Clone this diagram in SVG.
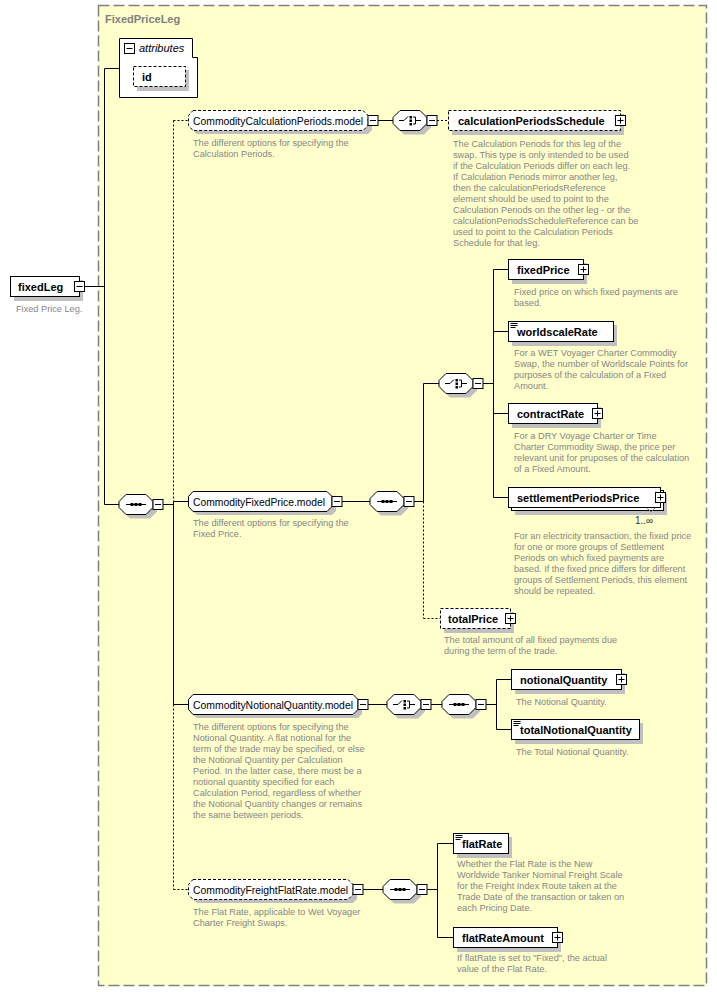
<svg xmlns="http://www.w3.org/2000/svg" xmlns:xlink="http://www.w3.org/1999/xlink" width="717" height="992" viewBox="0 0 717 992">
<style>
.box{fill:#fff;stroke:#000;stroke-width:1}
.dbox{fill:#fff;stroke:#000;stroke-width:1;stroke-dasharray:3,2}
.sh{fill:#c0c0c0}
.lbl{font-family:"Liberation Sans",Arial,sans-serif;font-size:11px;font-weight:bold;fill:#000}
.mdl{font-family:"Liberation Sans",Arial,sans-serif;font-size:11px;fill:#000}
.desc{font-family:"Liberation Sans",Arial,sans-serif;font-size:9.2px;fill:#868686}
.ln{stroke:#000;stroke-width:1;fill:none}
.dl{stroke:#000;stroke-width:1;fill:none;stroke-dasharray:2,2}
</style>
<defs>
<g id="minus"><rect x="0" y="0" width="10" height="10" class="box"/><line x1="2" y1="5" x2="8" y2="5" class="ln"/></g>
<g id="plus"><rect x="0" y="0" width="10" height="10" class="box"/><line x1="2" y1="5" x2="8" y2="5" class="ln"/><line x1="5" y1="2" x2="5" y2="8" class="ln"/></g>
<g id="simple"><line x1="2" y1="2" x2="9" y2="2" class="ln"/><line x1="2" y1="4" x2="9" y2="4" class="ln"/><line x1="2" y1="6" x2="7" y2="6" class="ln"/></g>
<g id="seqNode">
<polygon points="11,4 31,4 38,11 38,17 31,24 11,24 4,17 4,11" class="sh"/>
<polygon points="7,0 27,0 34,7 34,13 27,20 7,20 0,13 0,7" class="box"/>
<line x1="7" y1="10" x2="27" y2="10" class="ln"/>
<rect x="11.5" y="8.5" width="3" height="3" fill="#000"/>
<rect x="15.5" y="8.5" width="3" height="3" fill="#000"/>
<rect x="19.5" y="8.5" width="3" height="3" fill="#000"/>
<use xlink:href="#minus" x="34" y="5"/>
</g>
<g id="choiceNode">
<polygon points="11,4 31,4 38,11 38,17 31,24 11,24 4,17 4,11" class="sh"/>
<polygon points="7,0 27,0 34,7 34,13 27,20 7,20 0,13 0,7" class="box"/>
<polyline points="6,10 11,10 15,6" class="ln"/>
<rect x="16.5" y="5.5" width="2.5" height="2.5" fill="#000"/>
<rect x="16.5" y="9" width="2.5" height="2.5" fill="#000"/>
<rect x="16.5" y="12.5" width="2.5" height="2.5" fill="#000"/>
<polyline points="20,6.5 22.5,6.5 22.5,13.5 20,13.5" class="ln"/>
<line x1="22.5" y1="10" x2="28" y2="10" class="ln"/>
<use xlink:href="#minus" x="34" y="5"/>
</g>
</defs>

<rect x="0" y="0" width="717" height="992" fill="#fff"/>
<g id="FixedPriceLeg">
<rect x="98.5" y="5.5" width="608" height="980" fill="#ffffcc" stroke="#808080" stroke-width="1.5" stroke-dasharray="11,4"/>
<text x="105" y="23" class="lbl" style="fill:#808080">FixedPriceLeg</text>
</g>

<g id="connectors">
<line x1="84" y1="286.5" x2="104.5" y2="286.5" class="ln"/>
<line x1="104.5" y1="68.5" x2="104.5" y2="504.5" class="ln"/>
<line x1="104.5" y1="68.5" x2="119" y2="68.5" class="ln"/>
<line x1="104.5" y1="504.5" x2="119" y2="504.5" class="ln"/>
<line x1="163" y1="504.5" x2="173.5" y2="504.5" class="ln"/>
<line x1="173.5" y1="120.5" x2="173.5" y2="501.5" class="dl"/>
<line x1="173.5" y1="501.5" x2="173.5" y2="704.5" class="ln"/>
<line x1="173.5" y1="704.5" x2="173.5" y2="889.5" class="dl"/>
<line x1="173.5" y1="120.5" x2="188" y2="120.5" class="dl"/>
<line x1="173.5" y1="501.5" x2="188" y2="501.5" class="ln"/>
<line x1="173.5" y1="704.5" x2="188" y2="704.5" class="ln"/>
<line x1="173.5" y1="889.5" x2="188" y2="889.5" class="dl"/>
<line x1="378" y1="120.5" x2="393" y2="120.5" class="ln"/>
<line x1="437" y1="120.5" x2="448" y2="120.5" class="dl"/>
<line x1="342" y1="501.5" x2="370" y2="501.5" class="ln"/>
<line x1="414" y1="501.5" x2="423.5" y2="501.5" class="ln"/>
<line x1="423.5" y1="383.5" x2="423.5" y2="501.5" class="ln"/>
<line x1="423.5" y1="501.5" x2="423.5" y2="618.5" class="dl"/>
<line x1="423.5" y1="383.5" x2="439" y2="383.5" class="ln"/>
<line x1="423.5" y1="618.5" x2="440" y2="618.5" class="dl"/>
<line x1="483" y1="383.5" x2="493.5" y2="383.5" class="ln"/>
<line x1="493.5" y1="269.5" x2="493.5" y2="497.5" class="ln"/>
<line x1="493.5" y1="269.5" x2="508" y2="269.5" class="ln"/>
<line x1="493.5" y1="331.5" x2="508" y2="331.5" class="ln"/>
<line x1="493.5" y1="413.5" x2="508" y2="413.5" class="ln"/>
<line x1="493.5" y1="497.5" x2="508" y2="497.5" class="ln"/>
<line x1="368" y1="704.5" x2="387" y2="704.5" class="ln"/>
<line x1="431" y1="704.5" x2="442" y2="704.5" class="ln"/>
<line x1="486" y1="704.5" x2="496.5" y2="704.5" class="ln"/>
<line x1="496.5" y1="679.5" x2="496.5" y2="729.5" class="ln"/>
<line x1="496.5" y1="679.5" x2="511" y2="679.5" class="ln"/>
<line x1="496.5" y1="729.5" x2="511" y2="729.5" class="ln"/>
<line x1="363" y1="889.5" x2="383" y2="889.5" class="ln"/>
<line x1="427" y1="889.5" x2="437.5" y2="889.5" class="ln"/>
<line x1="437.5" y1="843.5" x2="437.5" y2="937.5" class="ln"/>
<line x1="437.5" y1="843.5" x2="453" y2="843.5" class="ln"/>
<line x1="437.5" y1="937.5" x2="453" y2="937.5" class="ln"/>
</g>

<g id="fixedLeg">
<rect x="14" y="280" width="69" height="21" class="sh"/>
<rect x="10.5" y="276.5" width="69" height="20" class="box"/>
<use xlink:href="#minus" x="74.5" y="281.5"/>
<text x="18" y="291" class="lbl">fixedLeg</text>
<text x="16" y="312" class="desc">Fixed Price Leg.</text>
</g>

<g id="attributes">
<polygon points="119.5,38.5 192.5,38.5 192.5,57.5 197.5,57.5 197.5,97.5 119.5,97.5" class="box"/>
<use xlink:href="#minus" x="124.5" y="43.5"/>
<text x="139" y="52" class="mdl" font-style="italic">attributes</text>
</g>
<g id="id">
<rect x="137" y="70" width="52" height="21" class="sh"/>
<rect x="133.5" y="66.5" width="52" height="20" class="dbox"/>
<text x="142" y="81" class="lbl">id</text>
</g>

<g id="seqMain"><use xlink:href="#seqNode" x="119" y="494.5"/></g>

<g id="CommodityCalculationPeriods.model">
<polygon points="197,114 368,114 372,119 372,130 368,134 197,134 192,130 192,119" class="sh"/>
<polygon points="193,110.5 363,110.5 368,115.5 368,125.5 363,130.5 193,130.5 188.5,125.5 188.5,115.5" class="dbox"/>
<use xlink:href="#minus" x="368" y="115.5"/>
<text x="193" y="124.5" class="mdl" textLength="170" lengthAdjust="spacingAndGlyphs">CommodityCalculationPeriods.model</text>
<text class="desc"><tspan x="193" y="146">The different options for specifying the</tspan><tspan x="193" y="157">Calculation Periods.</tspan></text>
</g>
<g id="choice1"><use xlink:href="#choiceNode" x="393" y="110.5"/></g>
<g id="calculationPeriodsSchedule">
<rect x="452" y="114" width="172" height="21" class="sh"/>
<rect x="448.5" y="110.5" width="172" height="20" class="dbox"/>
<use xlink:href="#plus" x="615.5" y="115.5"/>
<text x="458" y="124.5" class="lbl">calculationPeriodsSchedule</text>
<text class="desc"><tspan x="453" y="147">The Calculation Periods for this leg of the</tspan><tspan x="453" y="158">swap. This type is only intended to be used</tspan><tspan x="453" y="169">if the Calculation Periods differ on each leg.</tspan><tspan x="453" y="180">If Calculation Periods mirror another leg,</tspan><tspan x="453" y="191">then the calculationPeriodsReference</tspan><tspan x="453" y="202">element should be used to point to the</tspan><tspan x="453" y="213">Calculation Periods on the other leg - or the</tspan><tspan x="453" y="224">calculationPeriodsScheduleReference can be</tspan><tspan x="453" y="235">used to point to the Calculation Periods</tspan><tspan x="453" y="246">Schedule for that leg.</tspan></text>
</g>

<g id="CommodityFixedPrice.model">
<polygon points="197,495 332,495 336,500 336,511 332,515 197,515 192,511 192,500" class="sh"/>
<polygon points="193,491.5 327,491.5 332,496.5 332,506.5 327,511.5 193,511.5 188.5,506.5 188.5,496.5" class="box"/>
<use xlink:href="#minus" x="332" y="496.5"/>
<text x="193" y="505.5" class="mdl" textLength="132" lengthAdjust="spacingAndGlyphs">CommodityFixedPrice.model</text>
<text class="desc"><tspan x="193" y="526">The different options for specifying the</tspan><tspan x="193" y="537">Fixed Price.</tspan></text>
</g>
<g id="seq2"><use xlink:href="#seqNode" x="370" y="491.5"/></g>
<g id="choice2"><use xlink:href="#choiceNode" x="439" y="373.5"/></g>

<g id="fixedPrice">
<rect x="512" y="263" width="75" height="21" class="sh"/>
<rect x="508.5" y="259.5" width="75" height="20" class="box"/>
<use xlink:href="#plus" x="578.5" y="264.5"/>
<text x="517" y="273.5" class="lbl">fixedPrice</text>
<text class="desc"><tspan x="514" y="295">Fixed price on which fixed payments are</tspan><tspan x="514" y="306">based.</tspan></text>
</g>
<g id="worldscaleRate">
<rect x="512" y="325" width="105" height="21" class="sh"/>
<rect x="508.5" y="321.5" width="105" height="20" class="box"/>
<use xlink:href="#simple" x="508.5" y="321.5"/>
<text x="517" y="335.5" class="lbl">worldscaleRate</text>
<text class="desc"><tspan x="514" y="356">For a WET Voyager Charter Commodity</tspan><tspan x="514" y="367">Swap, the number of Worldscale Points for</tspan><tspan x="514" y="378">purposes of the calculation of a Fixed</tspan><tspan x="514" y="389">Amount.</tspan></text>
</g>
<g id="contractRate">
<rect x="512" y="407" width="89" height="21" class="sh"/>
<rect x="508.5" y="403.5" width="89" height="20" class="box"/>
<use xlink:href="#plus" x="592.5" y="408.5"/>
<text x="517" y="417.5" class="lbl">contractRate</text>
<text class="desc"><tspan x="514" y="439">For a DRY Voyage Charter or Time</tspan><tspan x="514" y="450">Charter Commodity Swap, the price per</tspan><tspan x="514" y="461">relevant unit for pruposes of the calculation</tspan><tspan x="514" y="472">of a Fixed Amount.</tspan></text>
</g>
<g id="settlementPeriodsPrice">
<rect x="515" y="494" width="152" height="21" class="sh"/>
<rect x="511.5" y="490.5" width="152" height="20" class="box"/>
<rect x="508.5" y="487.5" width="152" height="20" class="box"/>
<use xlink:href="#plus" x="655.5" y="492.5"/>
<polyline points="647,508 651,512 655,508" fill="none" stroke="#808080"/>
<text x="517" y="501.5" class="lbl">settlementPeriodsPrice</text>
<text x="635" y="524" font-family="Liberation Sans, Arial, sans-serif" font-size="10" fill="#333">1..∞</text>
<text class="desc"><tspan x="514" y="539">For an electricity transaction, the fixed price</tspan><tspan x="514" y="550">for one or more groups of Settlement</tspan><tspan x="514" y="561">Periods on which fixed payments are</tspan><tspan x="514" y="572">based. If the fixed price differs for different</tspan><tspan x="514" y="583">groups of Settlement Periods, this element</tspan><tspan x="514" y="594">should be repeated.</tspan></text>
</g>
<g id="totalPrice">
<rect x="444" y="612" width="70" height="21" class="sh"/>
<rect x="440.5" y="608.5" width="70" height="20" class="dbox"/>
<use xlink:href="#plus" x="505.5" y="613.5"/>
<text x="448" y="622.5" class="lbl">totalPrice</text>
<text class="desc"><tspan x="444" y="643">The total amount of all fixed payments due</tspan><tspan x="444" y="654">during the term of the trade.</tspan></text>
</g>

<g id="CommodityNotionalQuantity.model">
<polygon points="197,698 358,698 362,703 362,714 358,718 197,718 192,714 192,703" class="sh"/>
<polygon points="193,694.5 353,694.5 358,699.5 358,709.5 353,714.5 193,714.5 188.5,709.5 188.5,699.5" class="box"/>
<use xlink:href="#minus" x="358" y="699.5"/>
<text x="193" y="708.5" class="mdl" textLength="160" lengthAdjust="spacingAndGlyphs">CommodityNotionalQuantity.model</text>
<text class="desc"><tspan x="193" y="730">The different options for specifying the</tspan><tspan x="193" y="741">Notional Quantity. A flat notional for the</tspan><tspan x="193" y="752">term of the trade may be specified, or else</tspan><tspan x="193" y="763">the Notional Quantity per Calculation</tspan><tspan x="193" y="774">Period. In the latter case, there must be a</tspan><tspan x="193" y="785">notional quantity specified for each</tspan><tspan x="193" y="796">Calculation Period, regardless of whether</tspan><tspan x="193" y="807">the Notional Quantity changes or remains</tspan><tspan x="193" y="818">the same between periods.</tspan></text>
</g>
<g id="choice3"><use xlink:href="#choiceNode" x="387" y="694.5"/></g>
<g id="seq3"><use xlink:href="#seqNode" x="442" y="694.5"/></g>
<g id="notionalQuantity">
<rect x="515" y="673" width="110" height="21" class="sh"/>
<rect x="511.5" y="669.5" width="110" height="20" class="box"/>
<use xlink:href="#plus" x="616.5" y="674.5"/>
<text x="520" y="683.5" class="lbl">notionalQuantity</text>
<text x="516" y="705" class="desc">The Notional Quantity.</text>
</g>
<g id="totalNotionalQuantity">
<rect x="515" y="723" width="128" height="21" class="sh"/>
<rect x="511.5" y="719.5" width="128" height="20" class="box"/>
<use xlink:href="#simple" x="511.5" y="719.5"/>
<text x="520" y="733.5" class="lbl">totalNotionalQuantity</text>
<text x="516" y="755" class="desc">The Total Notional Quantity.</text>
</g>

<g id="CommodityFreightFlatRate.model">
<polygon points="197,883 353,883 357,888 357,899 353,903 197,903 192,899 192,888" class="sh"/>
<polygon points="193,879.5 348,879.5 353,884.5 353,894.5 348,899.5 193,899.5 188.5,894.5 188.5,884.5" class="dbox"/>
<use xlink:href="#minus" x="353" y="884.5"/>
<text x="193" y="893.5" class="mdl" textLength="155" lengthAdjust="spacingAndGlyphs">CommodityFreightFlatRate.model</text>
<text class="desc"><tspan x="193" y="915">The Flat Rate, applicable to Wet Voyager</tspan><tspan x="193" y="926">Charter Freight Swaps.</tspan></text>
</g>
<g id="seq4"><use xlink:href="#seqNode" x="383" y="879.5"/></g>
<g id="flatRate">
<rect x="457" y="837" width="55" height="21" class="sh"/>
<rect x="453.5" y="833.5" width="55" height="20" class="box"/>
<use xlink:href="#simple" x="453.5" y="833.5"/>
<text x="462" y="847.5" class="lbl">flatRate</text>
<text class="desc"><tspan x="457" y="867">Whether the Flat Rate is the New</tspan><tspan x="457" y="878">Worldwide Tanker Nominal Freight Scale</tspan><tspan x="457" y="889">for the Freight Index Route taken at the</tspan><tspan x="457" y="900">Trade Date of the transaction or taken on</tspan><tspan x="457" y="911">each Pricing Date.</tspan></text>
</g>
<g id="flatRateAmount">
<rect x="457" y="931" width="104" height="21" class="sh"/>
<rect x="453.5" y="927.5" width="104" height="20" class="box"/>
<use xlink:href="#plus" x="552.5" y="932.5"/>
<text x="462" y="941.5" class="lbl">flatRateAmount</text>
<text class="desc"><tspan x="457" y="961">If flatRate is set to "Fixed", the actual</tspan><tspan x="457" y="972">value of the Flat Rate.</tspan></text>
</g>
</svg>
